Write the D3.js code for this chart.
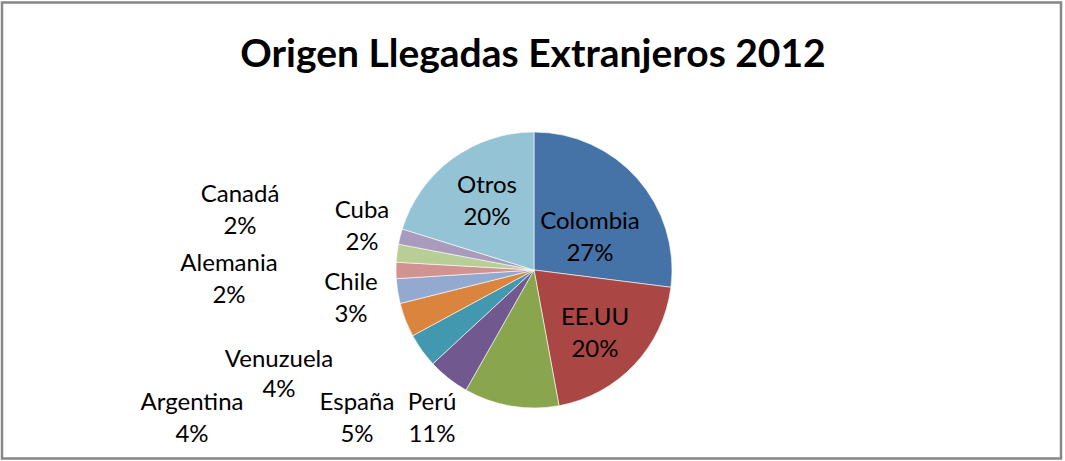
<!DOCTYPE html>
<html>
<head>
<meta charset="utf-8">
<script src="https://cdn.jsdelivr.net/npm/d3@7"></script>
<style>
  body { margin: 0; background: #fff; }
  text { font-family: Lato, "Open Sans", sans-serif; fill: #000; }
</style>
</head>
<body>
<script>
// datos (porcentaje de llegadas por pais de origen)
var paises = ["Colombia", "EE.UU", "Perú", "España", "Argentina", "Venuzuela", "Chile", "Alemania", "Canadá", "Cuba", "Otros"];
var valores = [27.0, 20.1, 11.1, 4.9, 4.0, 4.0, 2.9, 1.9, 2.1, 1.8, 20.2];
var colores = ["#4572A7", "#AA4643", "#89A54E", "#71588F", "#4198AF", "#DB843D", "#93A9CF", "#D19392", "#B9CD96", "#A99BBD", "#93C3D5"];
var titulo = "Origen Llegadas Extranjeros 2012";

// posicion de las etiquetas (centro x, linea base del nombre)
var etiquetaXY = [[590, 229], [595, 325], [432, 410], [357, 410], [192, 410], [279, 367], [351, 290], [229, 271], [240, 202], [362, 218], [487, 193]];

var width = 1065, height = 461;
var cx = 534, cy = 270, radio = 138;

var svg = d3.select("body").append("svg")
  .attr("width", width)
  .attr("height", height);

svg.append("rect")
  .attr("x", 2)
  .attr("y", 2.5)
  .attr("width", 1059)
  .attr("height", 456)
  .attr("fill", "#fff")
  .attr("stroke", "#878787")
  .attr("stroke-width", 2.5);

svg.append("text")
  .attr("x", 533)
  .attr("y", 67)
  .attr("text-anchor", "middle")
  .style("font-weight", "bold")
  .style("font-size", "39px")
  .text(titulo);

var datos = paises.map(function(p, i) { return {pais: p, valor: valores[i]}; });

var pie = d3.pie()
  .sort(null)
  .value(d => d.valor);

var arc = d3.arc()
  .innerRadius(0)
  .outerRadius(radio);

var color = d3.scaleOrdinal()
  .domain(paises)
  .range(colores);

var total = d3.sum(valores);

var g = svg.append("g")
  .attr("transform", "translate(" + cx + "," + cy + ")");

g.selectAll("path")
  .data(pie(datos))
  .enter()
  .append("path")
  .attr("d", arc)
  .attr("fill", d => color(d.data.pais))
  .attr("stroke", "#fff")
  .attr("stroke-width", 0.6);

var etiquetas = svg.selectAll("g.etiqueta")
  .data(datos)
  .enter()
  .append("g")
  .attr("class", "etiqueta");

etiquetas.append("text")
  .attr("x", (d, i) => etiquetaXY[i][0])
  .attr("y", (d, i) => etiquetaXY[i][1])
  .attr("text-anchor", "middle")
  .style("font-size", "24px")
  .text(d => d.pais);

etiquetas.append("text")
  .attr("x", (d, i) => etiquetaXY[i][0])
  .attr("y", (d, i) => etiquetaXY[i][1] + (d.pais == "Venuzuela" ? 30 : 32))
  .attr("text-anchor", "middle")
  .style("font-size", "24px")
  .text(d => Math.round(d.valor / total * 100) + "%");
</script>
</body>
</html>
